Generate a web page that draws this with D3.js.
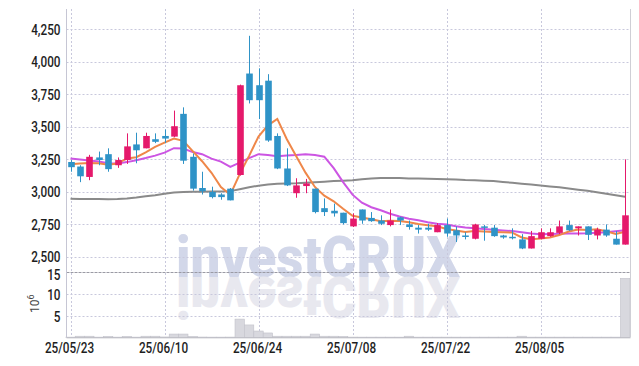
<!DOCTYPE html>
<html><head><meta charset="utf-8">
<script src="https://cdn.jsdelivr.net/npm/d3@7"></script>
<style>body{margin:0;background:#fff}svg{display:block}</style>
</head><body><svg id="c" width="639" height="366"></svg>
<script>
const dates = ["25/05/23","25/05/26","25/05/27","25/05/28","25/05/29","25/05/30","25/06/02","25/06/04","25/06/05","25/06/09",
"25/06/10","25/06/11","25/06/12","25/06/13","25/06/16","25/06/17","25/06/18","25/06/19","25/06/20","25/06/23",
"25/06/24","25/06/25","25/06/26","25/06/27","25/06/30","25/07/01","25/07/02","25/07/03","25/07/04","25/07/07",
"25/07/08","25/07/09","25/07/10","25/07/11","25/07/14","25/07/15","25/07/16","25/07/17","25/07/18","25/07/21",
"25/07/22","25/07/23","25/07/24","25/07/25","25/07/28","25/07/29","25/07/30","25/07/31","25/08/01","25/08/04",
"25/08/05","25/08/06","25/08/07","25/08/08","25/08/11","25/08/12","25/08/13","25/08/14","25/08/18","25/08/19"];
const openP = [3230,3195,3115,3265,3290,3205,3245,3365,3335,3405,3430,3425,3600,3270,3030,3000,2980,3025,3130,3910,
3820,3855,3430,3180,2990,3045,3025,2875,2855,2840,2735,2865,2800,2780,2745,2805,2750,2725,2725,2690,
2745,2705,2665,2640,2735,2725,2665,2655,2635,2565,2640,2660,2685,2745,2720,2735,2665,2710,2640,2595];
const highP = [3245,3205,3285,3310,3335,3265,3450,3455,3455,3450,3480,3625,3650,3295,3155,3040,2990,3030,3825,4200,
3950,3905,3450,3335,3105,3100,3025,2950,2910,2840,2835,2865,2845,2820,2865,2810,2780,2745,2755,2760,
2795,2735,2690,2755,2745,2745,2670,2720,2675,2700,2720,2720,2780,2780,2735,2735,2725,2750,2700,3250];
const lowP = [3155,3075,3090,3205,3155,3185,3215,3220,3335,3375,3375,3420,3215,3010,2980,2950,2940,2935,3125,3680,
3560,3385,3175,3045,2955,2990,2835,2815,2810,2750,2730,2755,2770,2745,2735,2745,2710,2680,2700,2690,
2655,2615,2635,2635,2625,2655,2640,2635,2560,2565,2635,2655,2675,2700,2665,2630,2635,2655,2595,2595];
const closeP = [3190,3120,3270,3245,3175,3245,3350,3320,3430,3385,3410,3505,3240,3025,3005,2960,2960,2935,3820,3705,
3705,3395,3180,3050,3050,3065,2845,2845,2835,2760,2795,2780,2775,2755,2780,2780,2730,2710,2710,2745,
2680,2665,2655,2750,2725,2660,2650,2645,2565,2660,2690,2690,2735,2705,2735,2670,2710,2665,2595,2820];
const ma5 = [3212,3218,3222,3220,3208,3218,3257,3267,3304,3346,3379,3410,3393,3313,3236,3147,3038,2978,3137,3277,
3426,3512,3561,3407,3276,3148,3038,2971,2928,2870,2816,2804,2790,2775,2779,2776,2766,2753,2743,2736,
2715,2703,2691,2699,2696,2692,2689,2687,2650,2637,2642,2650,2668,2696,2711,2707,2712,2698,2676,2693];
const ma20 = [3257,3250,3242,3233,3221,3219,3229,3244,3260,3279,3302,3336,3334,3306,3290,3256,3233,3193,3225,3260,
3290,3283,3275,3279,3283,3290,3283,3271,3183,3075,2979,2917,2882,2859,2832,2811,2794,2782,2767,2755,
2749,2736,2726,2721,2715,2709,2704,2699,2690,2680,2675,2676,2678,2680,2680,2682,2686,2690,2698,2705];
const ma60 = [2948,2946,2946,2945,2944,2946,2950,2957,2966,2975,2986,2996,2999,3001,3002,3003,3004,3006,3021,3036,
3048,3056,3062,3065,3067,3071,3075,3079,3083,3086,3090,3098,3103,3106,3106,3106,3104,3103,3102,3100,
3098,3096,3092,3090,3086,3083,3076,3070,3063,3057,3050,3042,3035,3026,3017,3008,2998,2986,2975,2963];
const volume = [0.04,0.25,0.25,0.04,0.2,0.04,0.2,0.04,0.25,0.25,0.08,0.75,0.75,0.2,0.06,0.04,0.04,0.05,4.2,2.85,
1.45,1.0,0.25,0.25,0.25,0.25,0.75,0.25,0.25,0.2,0.05,0.04,0.04,0.04,0.04,0.04,0.25,0.04,0.04,0.04,
0.04,0.04,0.04,0.04,0.04,0.04,0.04,0.04,0.25,0.04,0.04,0.04,0.04,0.04,0.04,0.04,0.04,0.04,0.04,13.6];
const priceTicks = [2500,2750,3000,3250,3500,3750,4000,4250];
const volTicks = [5,10,15];
const tickDates = ["25/05/23","25/06/10","25/06/24","25/07/08","25/07/22","25/08/05"];

const svg = d3.select("#c");
const L = 66.5, R = 630.5, T = 9, SEP = 272.3, B = 337.3;
const x = d3.scaleLinear().domain([0, dates.length - 1]).range([70.5, 625.1]);
const y = d3.scaleLinear().domain([2382, 4406]).range([SEP, T]);
const yv = d3.scaleLinear().domain([0, 15]).range([B, SEP]);
const step = x(1) - x(0);
const UP = "#e5196b", DOWN = "#2f93c7";
const FONT = "Roboto, 'Noto Sans', sans-serif";

// watermark (one text, drawn twice through <use>: normal + mirrored reflection)
const defs = svg.append("defs");
defs.append("text").attr("id", "wm").attr("x", 176).attr("y", 0).attr("font-family", FONT).attr("font-weight", 900)
  .attr("font-size", 57).attr("textLength", 284).attr("lengthAdjust", "spacingAndGlyphs")
  .text("investCRUX");
svg.append("use").attr("href", "#wm").attr("transform", "translate(0,277)").attr("fill", "#d2d7e9");
svg.append("use").attr("href", "#wm").attr("transform", "translate(0,277) scale(1,-1)").attr("fill", "#e8e8ef");
svg.append("rect").attr("x", 0).attr("y", B + 0.5).attr("width", 639).attr("height", 40).attr("fill", "#fff");

// grid
const grid = svg.append("g").attr("stroke", "#c8c8dc").attr("stroke-width", 1).attr("stroke-dasharray", "2,2");
priceTicks.forEach(t => grid.append("line").attr("x1", L).attr("x2", R).attr("y1", Math.round(y(t)) + 0.5).attr("y2", Math.round(y(t)) + 0.5));
volTicks.filter(t => t < 15).forEach(t => grid.append("line").attr("x1", L).attr("x2", R).attr("y1", Math.round(yv(t)) + 0.5).attr("y2", Math.round(yv(t)) + 0.5));
tickDates.forEach(d => { const xi = Math.round(x(dates.indexOf(d))) + 0.5;
  grid.append("line").attr("x1", xi).attr("x2", xi).attr("y1", T).attr("y2", B); });
svg.append("line").attr("x1", L).attr("x2", R).attr("y1", 272.5).attr("y2", 272.5)
  .attr("stroke", "#9a9aa4").attr("stroke-dasharray", "3,1");

// volume bars
svg.append("g").selectAll("rect").data(volume).join("rect")
  .attr("x", (d, i) => x(i) - step / 2).attr("width", step)
  .attr("y", d => yv(d)).attr("height", d => B - yv(d))
  .attr("fill", "#d8d8de").attr("stroke", "#c2c2ca").attr("stroke-width", 0.6);

// moving averages
const line = d3.line().x((d, i) => x(i)).y(d => y(d));
svg.append("path").attr("d", line(ma60)).attr("fill", "none").attr("stroke", "#8a8a8a").attr("stroke-width", 2);
svg.append("path").attr("d", line(ma20)).attr("fill", "none").attr("stroke", "#cc55e3").attr("stroke-width", 2);
svg.append("path").attr("d", line(ma5)).attr("fill", "none").attr("stroke", "#ef8749").attr("stroke-width", 2);

// candles
const cg = svg.append("g");
dates.forEach((d, i) => {
  const up = closeP[i] >= openP[i];
  const col = up ? UP : DOWN;
  const cx = Math.round(x(i)) + 0.5;
  cg.append("line").attr("x1", cx).attr("x2", cx).attr("y1", y(highP[i])).attr("y2", y(lowP[i]))
    .attr("stroke", col).attr("stroke-width", 1);
  const top = y(Math.max(openP[i], closeP[i])), bot = y(Math.min(openP[i], closeP[i]));
  cg.append("rect").attr("x", cx - 3.3).attr("width", 6.6).attr("y", top).attr("height", Math.max(1.5, bot - top))
    .attr("fill", col);
});

// borders
svg.append("line").attr("x1", L).attr("x2", L).attr("y1", T).attr("y2", B).attr("stroke", "#c6c6d4");
svg.append("line").attr("x1", R).attr("x2", R).attr("y1", T).attr("y2", B).attr("stroke", "#cfcfd6");
svg.append("line").attr("x1", L).attr("x2", R).attr("y1", B + 0.5).attr("y2", B + 0.5).attr("stroke", "#b8b8c0");

// labels
function label(tx, ty, str, anchor) {
  svg.append("g").attr("transform", `translate(${tx},${ty}) scale(0.84,1)`)
    .append("text").attr("text-anchor", anchor).attr("font-family", FONT).attr("font-weight", 500)
    .attr("font-size", 14).attr("fill", "#1e1e1e").attr("dy", "0.35em").text(str);
}
priceTicks.forEach(t => label(60.5, y(t) + 0.5, d3.format(",")(t), "end"));
volTicks.forEach(t => label(60.5, yv(t) + (t === 15 ? 2.5 : 1.5), String(t), "end"));
tickDates.forEach(d => label(x(dates.indexOf(d)) - 1, 348.5, d, "middle"));
const vl = svg.append("text").attr("transform", "translate(39,313) rotate(-90)")
  .attr("font-family", FONT).attr("font-size", 12).attr("fill", "#444");
vl.append("tspan").text("10");
vl.append("tspan").attr("dy", -5).attr("font-size", 9).text("6");
</script></body></html>
